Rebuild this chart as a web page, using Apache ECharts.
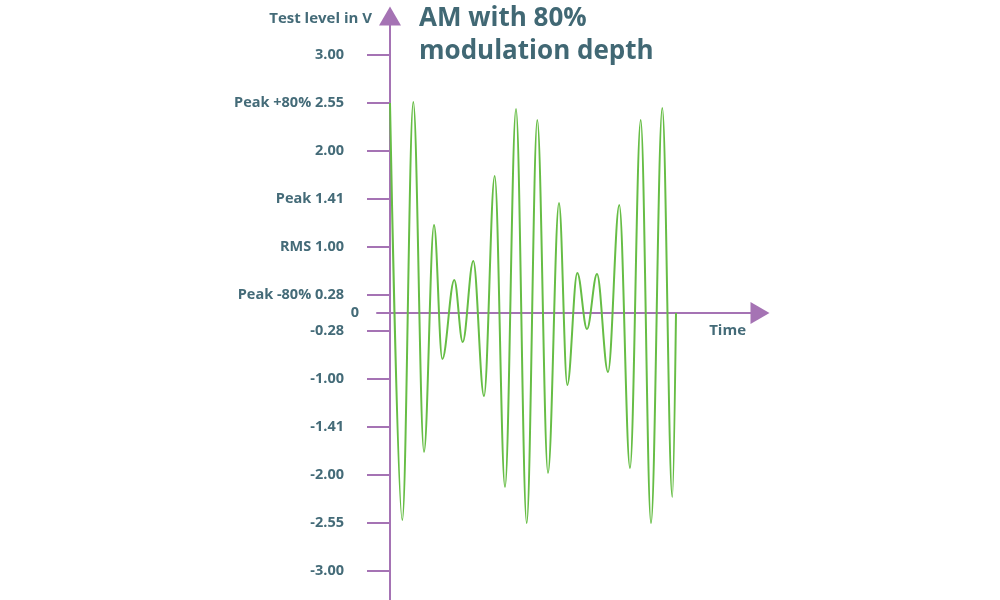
<!DOCTYPE html>
<html lang="en">
<head>
	<meta charset="UTF-8">
	<title>AM with 80% modulation depth</title>
	<style>
		html, body { margin: 0; padding: 0; background: #fff; }
	</style>
</head>
<body>
	<div id='main' style="width:1000px;height:600px;"></div>
</body>
<script src="https://cdn.jsdelivr.net/npm/echarts@6/dist/echarts.min.js"></script>
<script type="text/javascript">
    // axis levels (schematic, evenly spaced) and their labels
    var levelValues = [258, 210, 162, 114, 66, 18, -18, -66, -114, -162, -210, -258];
    var levelLabels = ['3.00', 'Peak +80% 2.55', '2.00', 'Peak 1.41', 'RMS 1.00', 'Peak -80% 0.28',
                       '-0.28', '-1.00', '-1.41', '-2.00', '-2.55', '-3.00'];

    // extrema of the modulated wave (time, level)
    var waveTime  = [0, 12.3, 23.3, 34, 44, 52.3, 64.3, 72.7, 83.3, 94, 104.7, 115, 126, 136.7,
                     147.3, 158, 169, 177.3, 187.3, 197, 207, 218, 229.3, 240, 250.7, 261, 272.3, 282.3, 286];
    var waveLevel = [210, -207, 211, -139, 88, -46, 33, -29, 52, -83, 137, -174, 204, -210,
                     193, -160, 110, -72, 40, -16, 39, -59, 108, -155, 193, -210, 205, -184, 0];

    var axisColor = '#a573b4';
    var textColor = '#446b78';
    var waveColor = '#66bd45';

    var waveData = [];
    for (var i = 0; i < waveTime.length; i++) {
        waveData.push([waveTime[i], waveLevel[i]]);
    }

    var option = {
        animation: false,
        textStyle: { fontFamily: 'Open Sans' },
        title: {
            text: 'AM with 80%\nmodulation depth',
            left: 414,
            top: -3,
            textStyle: { color: '#416874', fontSize: 26, fontWeight: 'bold', lineHeight: 33, fontFamily: 'Open Sans' }
        },
        grid: { left: 377, right: 240, top: 16, bottom: 0, containLabel: false },
        xAxis: {
            type: 'value',
            min: -13,
            max: 370,
            name: 'Time',
            nameLocation: 'end',
            nameGap: -14,
            nameTextStyle: { color: textColor, fontSize: 15, fontWeight: 'bold', align: 'right', verticalAlign: 'top', padding: [10, 0, 0, 0] },
            axisLine: { show: true, onZero: true, symbol: ['none', 'triangle'], symbolSize: [22, 19], lineStyle: { color: axisColor, width: 2 } },
            axisTick: { show: false },
            axisLabel: { show: false },
            splitLine: { show: false }
        },
        yAxis: {
            type: 'value',
            min: -287,
            max: 297,
            name: 'Test level in V',
            nameLocation: 'end',
            nameGap: -3,
            nameTextStyle: { color: textColor, fontSize: 15, fontWeight: 'bold', align: 'right', verticalAlign: 'middle', padding: [0, 18, 0, 0] },
            axisLine: { show: true, onZero: true, symbol: ['none', 'triangle'], symbolSize: [22, 19], lineStyle: { color: axisColor, width: 2 } },
            axisTick: { show: true, length: 23, customValues: levelValues, lineStyle: { color: axisColor, width: 2 } },
            axisLabel: {
                show: true,
                margin: 18,
                customValues: levelValues.concat([0]),
                formatter: function (v) {
                    if (v === 0) return '{z|0}';
                    var k = levelValues.indexOf(v);
                    return '{a|' + levelLabels[k] + '}';
                },
                rich: {
                    a: { color: textColor, fontSize: 14.5, fontWeight: 'bold', padding: [0, 15, 0, 0], fontFamily: 'Open Sans' },
                    z: { color: textColor, fontSize: 14.5, fontWeight: 'bold', fontFamily: 'Open Sans' }
                }
            },
            splitLine: { show: false }
        },
        series: [
            {
                name: 'AM',
                type: 'line',
                data: waveData,
                showSymbol: false,
                smooth: 0.36,
                smoothMonotone: 'x',
                lineStyle: { color: waveColor, width: 2 },
                z: 3
            }
        ]
    };
	myChart = echarts.init(document.getElementById('main'));
	myChart.setOption(option);
</script>
</html>
